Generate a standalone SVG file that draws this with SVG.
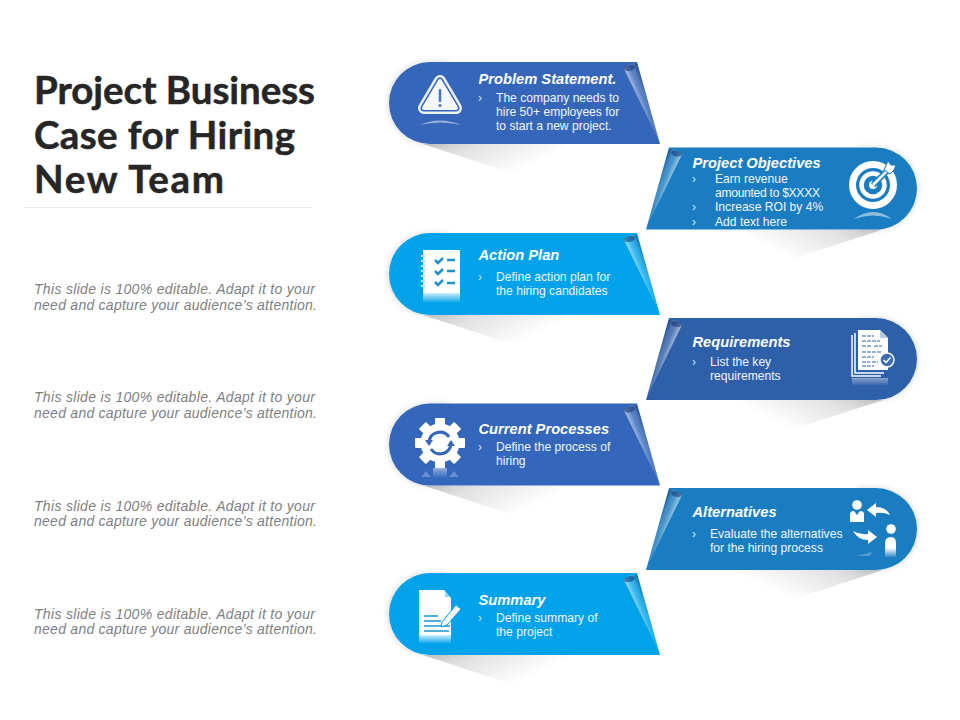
<svg xmlns="http://www.w3.org/2000/svg" width="960" height="720" viewBox="0 0 960 720">
<style>
.title{font:700 38.5px Lato,"Liberation Sans",sans-serif;fill:#262626;stroke:#262626;stroke-width:.5px}
.note{font:italic 14px "Liberation Sans",Arial,sans-serif;fill:#808080}
.h{font:italic 700 14.7px "Liberation Sans",Arial,sans-serif;fill:#fff}
.b{font:12.1px "Liberation Sans",Arial,sans-serif;fill:#f2f7fc}
.c{font:12px "Liberation Sans",Arial,sans-serif;fill:#cfe6f8}
</style>
<defs>
<path id="rib" d="M41,0H248L271,82H41A41,41 0 0 1 41,0Z"/>
<linearGradient id="sh" x1="0" y1="0" x2=".9" y2=".45"><stop offset="0" stop-color="#c4c4c4"/><stop offset="0.35" stop-color="#e2e2e2"/><stop offset="0.95" stop-color="#fff"/></linearGradient>
<linearGradient id="fd" gradientUnits="userSpaceOnUse" x1="236" y1="8" x2="248" y2="3"><stop offset="0" stop-color="#fff" stop-opacity=".55"/><stop offset="0.45" stop-color="#fff" stop-opacity=".18"/><stop offset="1" stop-color="#0b2a66" stop-opacity=".45"/></linearGradient>
<linearGradient id="fdm" x1="0" y1="0" x2="0" y2="1"><stop offset="0" stop-color="#fff"/><stop offset=".5" stop-color="#fff"/><stop offset="1" stop-color="#333"/></linearGradient>
<mask id="fm" maskUnits="userSpaceOnUse" x="230" y="0" width="45" height="85"><rect x="230" y="0" width="45" height="85" fill="url(#fdm)"/></mask>
<linearGradient id="fadeW" x1="0" y1="0" x2="0" y2="1"><stop offset="0" stop-color="#fff" stop-opacity=".8"/><stop offset="1" stop-color="#fff" stop-opacity="0"/></linearGradient>
<linearGradient id="bodyW" x1="0" y1="0" x2="0" y2="1"><stop offset="0" stop-color="#fff"/><stop offset=".55" stop-color="#fff"/><stop offset="1" stop-color="#fff" stop-opacity=".1"/></linearGradient>
<filter id="gl" x="-10%" y="-20%" width="120%" height="140%"><feGaussianBlur stdDeviation="2.5"/></filter>
<g id="base">
<path d="M34,82L138,116L178,82Z" fill="url(#sh)"/>
<path d="M41,-1A42,42 0 0 0 41,83H60V-1Z" fill="#9aa4b0" opacity=".3" filter="url(#gl)" transform="translate(-1,0)"/>
</g>
<g id="fold">
<path d="M235,7C238,2 243,1 248,2L271,81Z" fill="url(#fd)" mask="url(#fm)"/>
<ellipse cx="240.500" cy="6" rx="5.500" ry="2.800" transform="rotate(-12 240.500 6)" fill="#0b2a66" opacity=".5"/>
</g>
</defs>
<rect width="960" height="720" fill="#fff"/>
<g id="heading">
<text class="title" x="34" y="104" textLength="281">Project Business</text>
<text class="title" x="34" y="148.500" textLength="261">Case for Hiring</text>
<text class="title" x="34" y="193" textLength="190">New Team</text>
<rect x="24" y="207" width="288" height="1" fill="#eeeeee"/>
</g>
<g id="notes">
<text class="note" x="34" y="294" textLength="281">This slide is 100% editable. Adapt it to your</text>
<text class="note" x="34" y="310" textLength="283">need and capture your audience’s attention.</text>
<text class="note" x="34" y="402" textLength="281">This slide is 100% editable. Adapt it to your</text>
<text class="note" x="34" y="418" textLength="283">need and capture your audience’s attention.</text>
<text class="note" x="34" y="511" textLength="281">This slide is 100% editable. Adapt it to your</text>
<text class="note" x="34" y="526" textLength="283">need and capture your audience’s attention.</text>
<text class="note" x="34" y="619" textLength="281">This slide is 100% editable. Adapt it to your</text>
<text class="note" x="34" y="634" textLength="283">need and capture your audience’s attention.</text>
</g>

<g id="problem-statement">
<g transform="translate(389,62)"><use href="#base"/><use href="#rib" fill="#3566b9"/><use href="#fold"/></g>
<path d="M440,81L456,108H424Z" fill="#fff" stroke="#eef3fb" stroke-width="12" stroke-linejoin="round"/>
<path d="M440,81L456,108H424Z" fill="#3566b9" stroke="#3566b9" stroke-width="7" stroke-linejoin="round"/>
<path d="M440,81L456,108H424Z" fill="#f4f7fc" stroke="#f4f7fc" stroke-width="4" stroke-linejoin="round"/>
<rect x="438.700" y="89" width="2.600" height="13" rx="1.200" fill="#4a77bf"/><circle cx="440" cy="105.500" r="1.600" fill="#4a77bf"/>
<path d="M420,125Q440,116 461,125Q440,120 420,125Z" fill="#fff" opacity=".5"/>
<text class="h" x="478.500" y="84">Problem Statement.</text>
<text class="c" x="478" y="102">›</text>
<text class="b" x="496" y="102">The company needs to</text>
<text class="b" x="496" y="116">hire 50+ employees for</text>
<text class="b" x="496" y="130">to start a new project.</text>
</g>

<g id="project-objectives">
<g transform="translate(917,147.500) scale(-1,1)"><use href="#base"/><use href="#rib" fill="#1a7dc1"/><use href="#fold"/></g>
<circle cx="873" cy="185" r="20.500" fill="none" stroke="#fff" stroke-width="7"/>
<circle cx="873" cy="185" r="11.500" fill="none" stroke="#fff" stroke-width="4.500"/>
<circle cx="873" cy="185" r="4" fill="#fff"/>
<path d="M873,185L890,168" stroke="#1a7dc1" stroke-width="6"/>
<path d="M873,185L890,168" stroke="#fff" stroke-width="2.500"/>
<path d="M884,170L888,161L891,165L896,165L894,170L890,174Z" fill="#fff" stroke="#1a7dc1"/>
<path d="M854,219Q873,205 892,219Q873,212 854,219Z" fill="#fff" opacity=".5"/>
<text class="h" x="692.500" y="167.500">Project Objectives</text>
<text class="c" x="692" y="183">›</text><text class="c" x="692" y="211">›</text><text class="c" x="692" y="226">›</text>
<text class="b" x="715" y="183">Earn revenue</text>
<text class="b" x="715" y="197" textLength="105">amounted to $XXXX</text>
<text class="b" x="715" y="211">Increase ROI by 4%</text>
<text class="b" x="715" y="226">Add text here</text>
</g>

<g id="action-plan">
<g transform="translate(389,233)"><use href="#base"/><use href="#rib" fill="#00a3ea"/><use href="#fold"/></g>
<rect x="423" y="250" width="37" height="43" fill="#fff"/>
<rect x="423" y="293" width="37" height="10" fill="url(#fadeW)"/>
<path d="M421,256h5M421,261h5M421,266h5M421,271h5M421,276h5M421,281h5M421,286h5" stroke="#fff" stroke-width="2"/>
<path d="M422,256h3M422,261h3M422,266h3M422,271h3M422,276h3M422,281h3M422,286h3" stroke="#1d8fc9" stroke-width="1.200" opacity=".7"/>
<g fill="none" stroke="#1d8fc9" stroke-width="2.500"><path d="M435,260l3,3l5,-5M435,271l3,3l5,-5M435,282l3,3l5,-5"/>
<path d="M447,260h8M447,271h8M447,283h8"/></g>
<text class="h" x="478.500" y="260">Action Plan</text>
<text class="c" x="478" y="281">›</text>
<text class="b" x="496" y="281">Define action plan for</text>
<text class="b" x="496" y="295">the hiring candidates</text>
</g>

<g id="requirements">
<g transform="translate(917,318) scale(-1,1)"><use href="#base"/><use href="#rib" fill="#2e5fa9"/><use href="#fold"/></g>
<path d="M852,335V376H881" fill="none" stroke="#fff" stroke-width="1.500"/>
<path d="M855,333V373H884" fill="none" stroke="#fff" stroke-width="1.500"/>
<path d="M858,330H880L888,338V370H858Z" fill="#fff"/>
<path d="M880,330V338H888Z" fill="#b9cce6"/>
<path d="M862,336h12M862,341h18M862,346h10M874,346h8M862,352h20M862,357h12M862,362h8M872,362h6M862,366h12" stroke="#2e5fa9" stroke-width="1.200" stroke-dasharray="4 1"/>
<circle cx="887" cy="360" r="7" fill="#3d6cb3" stroke="#fff" stroke-width="1.500"/>
<path d="M883.500,360l2.500,2.500l4.500,-5" fill="none" stroke="#fff" stroke-width="1.500"/>
<rect x="852" y="378" width="36" height="8" fill="url(#fadeW)" opacity=".55"/>
<text class="h" x="692.500" y="347">Requirements</text>
<text class="c" x="692" y="366">›</text>
<text class="b" x="710" y="366">List the key</text>
<text class="b" x="710" y="380">requirements</text>
</g>

<g id="current-processes">
<g transform="translate(389,403.500)"><use href="#base"/><use href="#rib" fill="#3467bb"/><use href="#fold"/></g>
<g transform="translate(440,443)" fill="#fff">
<circle r="19.500"/>
<rect x="-5" y="-25" width="10" height="9" rx="1"/><rect x="-5" y="-25" width="10" height="9" rx="1" transform="rotate(45)"/><rect x="-5" y="-25" width="10" height="9" rx="1" transform="rotate(90)"/><rect x="-5" y="-25" width="10" height="9" rx="1" transform="rotate(135)"/><rect x="-5" y="-25" width="10" height="9" rx="1" transform="rotate(180)"/><rect x="-5" y="-25" width="10" height="9" rx="1" transform="rotate(225)"/><rect x="-5" y="-25" width="10" height="9" rx="1" transform="rotate(270)"/><rect x="-5" y="-25" width="10" height="9" rx="1" transform="rotate(315)"/>
<path d="M-11,-1A11,11 0 0 1 9,-6" fill="none" stroke="#3467bb" stroke-width="3"/>
<path d="M-15,-3L-7,-3L-11,3Z" fill="#3467bb"/>
<path d="M11,1A11,11 0 0 1 -9,6" fill="none" stroke="#3467bb" stroke-width="3"/>
<path d="M15,3L7,3L11,-3Z" fill="#3467bb"/>
</g>
<rect x="433" y="468" width="14" height="10" fill="url(#fadeW)" opacity=".6"/>
<path d="M421,477l5,-6l5,6ZM449,477l5,-6l5,6Z" fill="#fff" opacity=".25"/>
<text class="h" x="478.500" y="433.500">Current Processes</text>
<text class="c" x="478" y="451">›</text>
<text class="b" x="496" y="451">Define the process of</text>
<text class="b" x="496" y="465">hiring</text>
</g>

<g id="alternatives">
<g transform="translate(917,488) scale(-1,1)"><use href="#base"/><use href="#rib" fill="#1a7dc1"/><use href="#fold"/></g>
<circle cx="857" cy="505" r="4.800" fill="#fff"/>
<path d="M850,522V514Q850,511 854,511L857,515L860,511Q864,511 864,514V522Z" fill="#fff"/>
<path d="M867,510L876,503V507Q886,507 890,515Q884,512 876,513V517Z" fill="#fff"/>
<path d="M877,537L868,544V540Q858,540 853,531Q860,535 868,534V530Z" fill="#fff"/>
<circle cx="891" cy="529" r="4.800" fill="#fff"/>
<path d="M885,557V543Q885,537 891,537Q896,537 896,543V557Z" fill="url(#bodyW)"/>
<path d="M856,556L870,556L872,552Z" fill="#fff" opacity=".25"/>
<text class="h" x="692.500" y="517">Alternatives</text>
<text class="c" x="692" y="538">›</text>
<text class="b" x="710" y="538">Evaluate the alternatives</text>
<text class="b" x="710" y="552">for the hiring process</text>
</g>

<g id="summary">
<g transform="translate(389,573)"><use href="#base"/><use href="#rib" fill="#00a3ea"/><use href="#fold"/></g>
<path d="M419,590H444L451,598V635H419Z" fill="#fff"/>
<path d="M445,592V597H450Z" fill="#8fd4f5"/>
<rect x="419" y="635" width="32" height="9" fill="url(#fadeW)"/>
<path d="M424,616h14M424,621h17M424,626h26M424,631h25" stroke="#1d92d0" stroke-width="1.500"/>
<path d="M442,622L456,605L461,609L447,625L441,627Z" fill="#fff" stroke="#00a3ea" stroke-width="1"/>
<text class="h" x="478.500" y="605">Summary</text>
<text class="c" x="478" y="622">›</text>
<text class="b" x="496" y="622">Define summary of</text>
<text class="b" x="496" y="636">the project</text>
</g>
</svg>
